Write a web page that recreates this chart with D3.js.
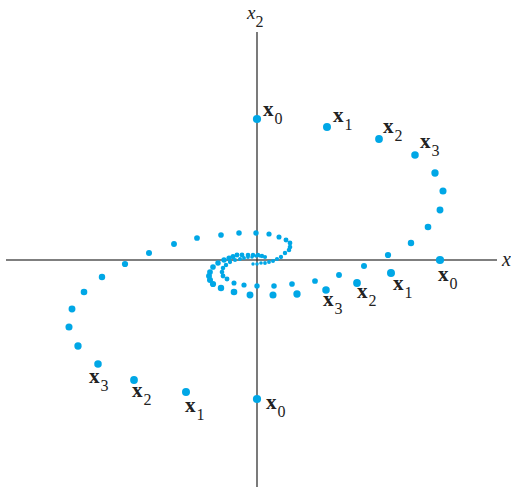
<!DOCTYPE html>
<html><head><meta charset="utf-8">
<script src="https://cdn.jsdelivr.net/npm/d3@7"></script>
<style>html,body{margin:0;padding:0;background:#fff;} svg{display:block;}</style>
</head><body>
<svg id="chart" width="511" height="487"></svg>
<script>
// Trajectory starting on the positive x1-axis
const trajA = [[3.66,0],[2.68,-0.26],[2.00,-0.46],[1.38,-0.60],[0.80,-0.68],[0.32,-0.70],
  [-0.14,-0.70],[-0.46,-0.64],[-0.72,-0.56],[-0.88,-0.48],[-0.94,-0.40],[-0.96,-0.32],
  [-0.94,-0.24],[-0.88,-0.14],[-0.78,-0.06],[-0.66,0.00],[-0.56,0.04],[-0.48,0.07],
  [-0.40,0.10],[-0.30,0.10],[-0.18,0.10],[-0.08,0.10],[0.02,0.10],[0.10,0.08],[0.16,0.06]];
// Trajectory starting on the positive x2-axis
const trajB = [[0,2.82],[1.40,2.66],[2.44,2.42],[3.16,2.10],[3.56,1.74],[3.72,1.38],
  [3.66,1.00],[3.42,0.66],[3.08,0.34],[2.62,0.10],[2.14,-0.12],[1.64,-0.30],
  [1.16,-0.42],[0.70,-0.48],[0.34,-0.52],[0.00,-0.52],[-0.26,-0.50],[-0.46,-0.46],
  [-0.60,-0.38],[-0.68,-0.32],[-0.70,-0.24],[-0.68,-0.16],[-0.62,-0.10],[-0.54,-0.04],
  [-0.44,0.00],[-0.34,0.02],[-0.26,0.04],[-0.18,0.06],[-0.10,0.06],[-0.02,0.08],[0.06,0.08]];
// Trajectory starting on the negative x2-axis
const trajC = [[0,-2.78],[-1.42,-2.64],[-2.46,-2.40],[-3.18,-2.08],[-3.58,-1.72],[-3.76,-1.34],
  [-3.70,-0.98],[-3.46,-0.64],[-3.10,-0.34],[-2.64,-0.08],[-2.16,0.14],[-1.66,0.32],
  [-1.20,0.44],[-0.72,0.50],[-0.36,0.54],[-0.02,0.54],[0.24,0.52],[0.44,0.46],
  [0.58,0.40],[0.66,0.34],[0.66,0.26],[0.64,0.20],[0.56,0.14],[0.48,0.06],
  [0.40,0.02],[0.32,-0.02],[0.24,-0.04],[0.16,-0.06],[0.08,-0.06],[0.00,-0.08],[-0.08,-0.08]];
const labelSubscripts = ["0","1","2","3"];
const axisLabelX = "x";
const axisLabelY = "x";
const axisLabelYSub = "2";

const W = 511, H = 487;
const svg = d3.select("#chart");
const x = d3.scaleLinear().domain([-5.14, 5.08]).range([0, W]);
const y = d3.scaleLinear().domain([-4.54, 5.2]).range([H, 0]);
const r = d3.scaleLinear().domain([0, 10, 30]).range([4.1, 3.0, 1.7]).clamp(true);
const dotColor = "#00a7e6";
const axisColor = "#555";
const serif = "'Liberation Serif','Times New Roman',serif";

// axes
svg.append("line").attr("x1", x(-5.02)).attr("x2", x(4.8)).attr("y1", y(0)).attr("y2", y(0))
  .attr("stroke", axisColor).attr("stroke-width", 1.6);
svg.append("line").attr("x1", x(0)).attr("x2", x(0)).attr("y1", y(4.56)).attr("y2", y(-4.54))
  .attr("stroke", "#333").attr("stroke-width", 1.3);

svg.append("text").attr("x", x(4.8) + 5).attr("y", y(0) + 6)
  .attr("font-family", serif).attr("font-style", "italic").attr("font-size", 20)
  .attr("fill", "#222").text(axisLabelX);
const yl = svg.append("text").attr("x", x(0) - 10).attr("y", y(4.56) - 13)
  .attr("font-family", serif).attr("font-style", "italic").attr("font-size", 19).attr("fill", "#222");
yl.append("tspan").text(axisLabelY);
yl.append("tspan").attr("font-style", "normal").attr("font-size", 16).attr("dy", 8).text(axisLabelYSub);

// points
[trajA, trajB, trajC].forEach(traj => {
  svg.append("g").selectAll("circle").data(traj).join("circle")
    .attr("cx", d => x(d[0])).attr("cy", d => y(d[1]))
    .attr("r", (d, i) => r(i)).attr("fill", dotColor);
});

// labels x0..x3 for each trajectory (offsets in pixels from the point)
const labelOffsets = {
  A: [[-2, 21], [2, 17], [0, 15], [-3, 16]],
  B: [[6, -3], [6, -5], [4, -6], [5, -7]],
  C: [[9, 10], [-1, 20], [-2, 17], [-9, 19]]
};
function addLabels(traj, offs) {
  labelSubscripts.forEach((s, i) => {
    const t = svg.append("text")
      .attr("x", x(traj[i][0]) + offs[i][0]).attr("y", y(traj[i][1]) + offs[i][1])
      .attr("font-family", serif).attr("fill", "#222");
    t.append("tspan").attr("font-weight", "bold").attr("font-size", 21).text("x");
    t.append("tspan").attr("font-size", 16).attr("dx", 1).attr("dy", 8).text(s);
  });
}
addLabels(trajA, labelOffsets.A);
addLabels(trajB, labelOffsets.B);
addLabels(trajC, labelOffsets.C);
</script>
</body></html>
